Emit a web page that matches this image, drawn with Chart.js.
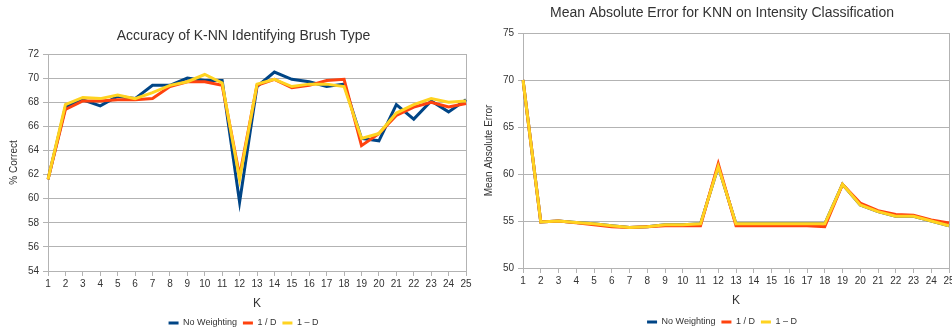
<!DOCTYPE html>
<html>
<head>
<meta charset="utf-8">
<script src="https://cdn.jsdelivr.net/npm/chart.js@4.4.0/dist/chart.umd.min.js"></script>
<style>
  html, body { margin: 0; padding: 0; overflow: hidden; background: #fff; }
  #page { position: relative; width: 952px; height: 333px; overflow: hidden; }
  #leftBox { position: absolute; left: 0; top: 0; width: 487px; height: 338px; }
  #rightBox { position: absolute; left: 475px; top: 0; width: 494px; height: 338px; }
</style>
</head>
<body>
<div id="page">
  <div id="leftBox"><canvas id="accChart" width="487" height="338"></canvas></div>
  <div id="rightBox"><canvas id="maeChart" width="494" height="338"></canvas></div>
</div>
<script>
// K values shared by both charts
const kLabels = ['1','2','3','4','5','6','7','8','9','10','11','12','13','14','15','16','17','18','19','20','21','22','23','24','25'];
const seriesNames = ['No Weighting', '1 / D', '1 \u2013 D'];

// Accuracy (% correct)
const accNoWeight = [61.6, 67.6, 68.2, 67.7, 68.5, 68.3, 69.4, 69.4, 70.0, 69.8, 69.8, 59.7, 69.3, 70.5, 69.9, 69.7, 69.3, 69.5, 65.0, 64.8, 67.8, 66.6, 68.1, 67.2, 68.2];
const accInvD    = [61.6, 67.4, 68.1, 68.1, 68.2, 68.2, 68.3, 69.3, 69.7, 69.7, 69.4, 61.9, 69.4, 69.9, 69.2, 69.4, 69.8, 69.9, 64.4, 65.4, 66.9, 67.6, 68.0, 67.6, 67.9];
const accOneMinD = [61.6, 67.8, 68.4, 68.3, 68.6, 68.3, 68.8, 69.4, 69.7, 70.3, 69.6, 61.6, 69.5, 69.9, 69.3, 69.5, 69.5, 69.3, 65.0, 65.4, 67.1, 67.8, 68.3, 68.0, 68.1];

// Mean absolute error
const maeNoWeight = [70, 54.9, 55.0, 54.85, 54.7, 54.5, 54.3, 54.4, 54.6, 54.6, 54.7, 60.8, 54.7, 54.7, 54.7, 54.7, 54.7, 54.7, 58.9, 56.7, 56.0, 55.5, 55.5, 55.0, 54.5];
const maeInvD    = [70, 54.9, 55.0, 54.8, 54.6, 54.4, 54.3, 54.4, 54.5, 54.5, 54.5, 61.1, 54.5, 54.5, 54.5, 54.5, 54.5, 54.4, 58.9, 56.9, 56.1, 55.7, 55.6, 55.1, 54.8];
const maeOneMinD = [70, 54.9, 55.0, 54.85, 54.7, 54.5, 54.3, 54.4, 54.6, 54.6, 54.7, 60.8, 54.7, 54.7, 54.7, 54.7, 54.7, 54.7, 58.9, 56.7, 56.0, 55.5, 55.5, 55.0, 54.5];

const colors = ['#004586', '#ff420e', '#ffd320'];
const gridColor = '#b3b3b3';
const textColor = '#333333';
Chart.defaults.font.family = '"Liberation Sans", Arial, sans-serif';
Chart.defaults.color = textColor;

function makeDatasets(values) {
  return values.map((v, i) => ({
    label: seriesNames[i],
    data: v,
    borderColor: colors[i],
    backgroundColor: colors[i],
    borderWidth: 3,
    pointRadius: 0,
    tension: 0,
    order: 3 - i  // yellow ends up on top
  }));
}

function makeChart(id, cfg) {
  return new Chart(document.getElementById(id).getContext('2d'), {
    type: 'line',
    data: { labels: kLabels, datasets: makeDatasets(cfg.values) },
    options: {
      responsive: false,
      animation: false,
      layout: { padding: { left: 0, right: 0, top: 0, bottom: cfg.padBottom } },
      plugins: {
        title: {
          display: true,
          text: cfg.title,
          color: textColor,
          font: { size: 14, weight: 'normal' },
          padding: { top: cfg.titleTop, bottom: cfg.titleBottom }
        },
        legend: {
          position: 'bottom',
          labels: {
            usePointStyle: true,
            pointStyle: 'line',
            pointStyleWidth: 10,
            boxWidth: 10,
            padding: 6,
            color: textColor,
            font: { size: 9 },
            sort: (a, b) => a.datasetIndex - b.datasetIndex
          }
        },
        tooltip: { enabled: false }
      },
      scales: {
        x: {
          offset: false,
          grid: { drawOnChartArea: false, drawTicks: true, tickLength: 5, color: gridColor },
          border: { color: gridColor },
          ticks: { font: { size: 10 }, padding: 2, maxRotation: 0, autoSkip: false, color: textColor },
          title: { display: true, text: 'K', font: { size: 12 }, color: textColor,
                   padding: { top: cfg.kTop, bottom: cfg.kBottom } }
        },
        y: {
          min: cfg.yMin,
          max: cfg.yMax,
          afterFit: s => { s.width = 48; },
          grid: { color: gridColor, tickLength: 5 },
          border: { color: gridColor },
          ticks: { stepSize: cfg.yStep, font: { size: 10 }, padding: 4, color: textColor },
          title: { display: true, text: cfg.yTitle, font: { size: 10 }, color: textColor,
                   padding: { top: 8, bottom: 0 } }
        },
        // empty right axis: reserves space and draws the right border of the plot
        yRight: {
          position: 'right',
          afterFit: s => { s.width = cfg.rightGap; },
          grid: { display: false },
          ticks: { display: false },
          border: { display: true, color: gridColor }
        }
      }
    }
  });
}

makeChart('accChart', {
  values: [accNoWeight, accInvD, accOneMinD],
  title: 'Accuracy of K-NN Identifying Brush Type',
  yTitle: '% Correct',
  yMin: 54, yMax: 72, yStep: 2,
  titleTop: 27.6, titleBottom: 9.6,
  kTop: 4.8, kBottom: 1.3,
  padBottom: 0.5,
  rightGap: 21
});

makeChart('maeChart', {
  values: [maeNoWeight, maeInvD, maeOneMinD],
  title: 'Mean Absolute Error for KNN on Intensity Classification',
  yTitle: 'Mean Absolute Error',
  yMin: 50, yMax: 75, yStep: 5,
  titleTop: 4.6, titleBottom: 11.6,
  kTop: 4.8, kBottom: 3.3,
  padBottom: 1.5,
  rightGap: 20
});
</script>
</body>
</html>
